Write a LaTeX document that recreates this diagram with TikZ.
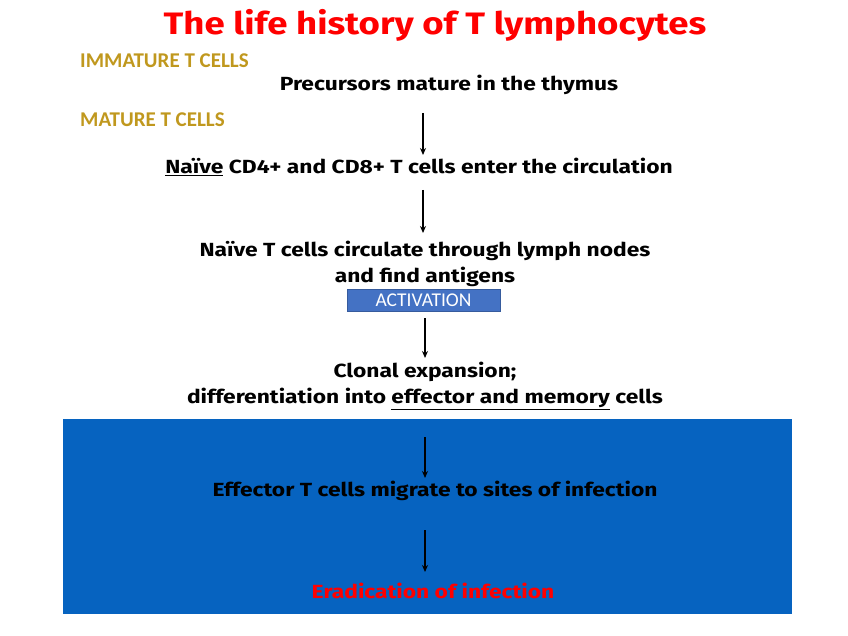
\documentclass[tikz,border=0pt]{standalone}
\usepackage{fontspec}
\setmainfont{Fira Sans}[FakeStretch=1.2]
\newfontfamily\titlefont{Fira Sans}[FakeStretch=1.18]
\newfontfamily\calib{Carlito}
\usetikzlibrary{arrows.meta}
\definecolor{gold}{RGB}{192,152,30}
\definecolor{actblue}{RGB}{68,114,196}
\definecolor{bgblue}{RGB}{6,99,192}
\definecolor{tred}{RGB}{255,0,0}
\tikzset{
  body/.style={font=\bfseries\fontsize{19}{24}\selectfont, text=black, inner sep=0pt, align=center},
  lab/.style={font=\calib\bfseries\fontsize{21}{22}\selectfont, text=gold, inner sep=0pt, anchor=west},
  flow/.style={-{Stealth[length=7pt,width=6pt]}, line width=1.6pt, black}
}
\begin{document}
\begin{tikzpicture}[x=1pt,y=-1pt]
\useasboundingbox (0,0) rectangle (848,636);
\fill[bgblue] (63,419) rectangle (792,614);
\node[font=\titlefont\bfseries\fontsize{31}{36}\selectfont, text=tred, inner sep=0pt] (title) at (435,25) {The life history of T lymphocytes};
\node[lab] (imm) at (80,61) {IMMATURE T CELLS};
\node[lab] (mat) at (80,120) {MATURE T CELLS};
\node[body] (prec) at (449,85) {Precursors mature in the thymus};
\coordinate (a1s) at (423,113);
\node[body] (naive) at (419,167) {\underline{Naïve} CD4+ and CD8+ T cells enter the circulation};
\node[body, font=\bfseries\fontsize{19}{26}\selectfont] (circ) at (425,264) {Naïve T cells circulate through lymph nodes\\and find antigens};
\node[fill=actblue, draw=actblue!80!black, minimum width=153pt, minimum height=22pt, inner sep=0pt, text=white, font=\calib\fontsize{19.5}{20}\selectfont] (act) at (423.5,300) {ACTIVATION};
\node[body, font=\bfseries\fontsize{19}{26}\selectfont] (clon) at (425,386) {Clonal expansion;\\differentiation into \underline{effector and memory} cells};
\node[body] (eff) at (435,491) {Effector T cells migrate to sites of infection};
\node[body, text=tred] (erad) at (433,591) {Eradication of infection};
\draw[flow] (a1s) -- (a1s |- 0,155);
\draw[flow] (423,190) -- (423,233);
\draw[flow] (act.south -| 425,0) ++(0,7) -- (425,358);
\draw[flow] (425,437) -- (425,478);
\draw[flow] (425,530) -- (425,572);
\end{tikzpicture}
\end{document}
